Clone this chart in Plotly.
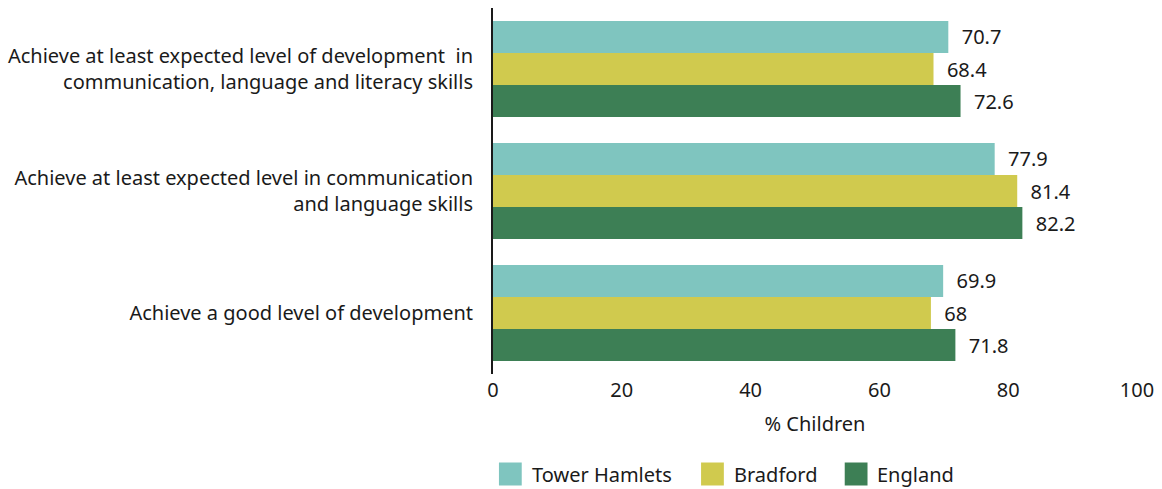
import plotly.graph_objects as go

categories = [
    "Achieve at least expected level of development  in<br>communication, language and literacy skills",
    "Achieve at least expected level in communication<br>and language skills",
    "Achieve a good level of development",
]
tower_hamlets = [70.7, 77.9, 69.9]
bradford = [68.4, 81.4, 68.0]
england = [72.6, 82.2, 71.8]

series = [
    ("Tower Hamlets", tower_hamlets, "#7FC5BF"),
    ("Bradford", bradford, "#D0CA4E"),
    ("England", england, "#3D7F55"),
]

FONT = "Noto Sans"
TEXT = "#1a1a1a"
W, H = 1162, 489
ML, MR, MT, MB = 493, 19, 8, 115

fig = go.Figure()
for name, vals, color in series:
    fig.add_trace(go.Bar(
        name=name,
        y=categories,
        x=vals,
        orientation="h",
        marker=dict(color=color, line=dict(width=0)),
        text=[f"{v:g}" for v in vals],
        textposition="outside",
        texttemplate="  %{text}",
        textfont=dict(size=20, color=TEXT, family=FONT),
        cliponaxis=False,
        showlegend=False,
    ))

# Legend drawn as square swatches plus labels below the x-axis title
pw, ph = W - ML - MR, H - MT - MB


def px_x(px):
    return (px - ML) / pw


def px_y(py):
    return (H - MB - py) / ph


legend_items = [("Tower Hamlets", 499), ("Bradford", 703), ("England", 848)]
sw, cy = 23, 474
for (name, left), (_, _, color) in zip(legend_items, series):
    fig.add_shape(
        type="rect", xref="paper", yref="paper",
        x0=px_x(left), x1=px_x(left + sw),
        y0=px_y(cy + sw / 2), y1=px_y(cy - sw / 2),
        fillcolor=color, line=dict(width=0),
    )
    fig.add_annotation(
        xref="paper", yref="paper",
        x=px_x(left + sw + 8), y=px_y(cy),
        xanchor="left", yanchor="middle",
        text=name, showarrow=False,
        font=dict(size=20, color=TEXT, family=FONT),
    )

fig.update_layout(
    width=W,
    height=H,
    margin=dict(l=ML, r=MR, t=MT, b=MB),
    barmode="group",
    bargap=0.213,
    bargroupgap=0,
    plot_bgcolor="white",
    paper_bgcolor="white",
    font=dict(family=FONT, size=20, color=TEXT),
    showlegend=False,
    xaxis=dict(
        range=[0, 100],
        tickvals=[0, 20, 40, 60, 80, 100],
        showgrid=False,
        zeroline=False,
        showline=False,
        ticks="",
        ticklabelstandoff=2,
        tickfont=dict(size=20),
        title=dict(text="% Children", font=dict(size=20), standoff=14),
    ),
    yaxis=dict(
        autorange="reversed",
        showgrid=False,
        zeroline=False,
        showline=True,
        linecolor=TEXT,
        linewidth=2,
        ticks="",
        ticklabelstandoff=14,
        tickfont=dict(size=20),
    ),
)

fig.write_html("out.html")
